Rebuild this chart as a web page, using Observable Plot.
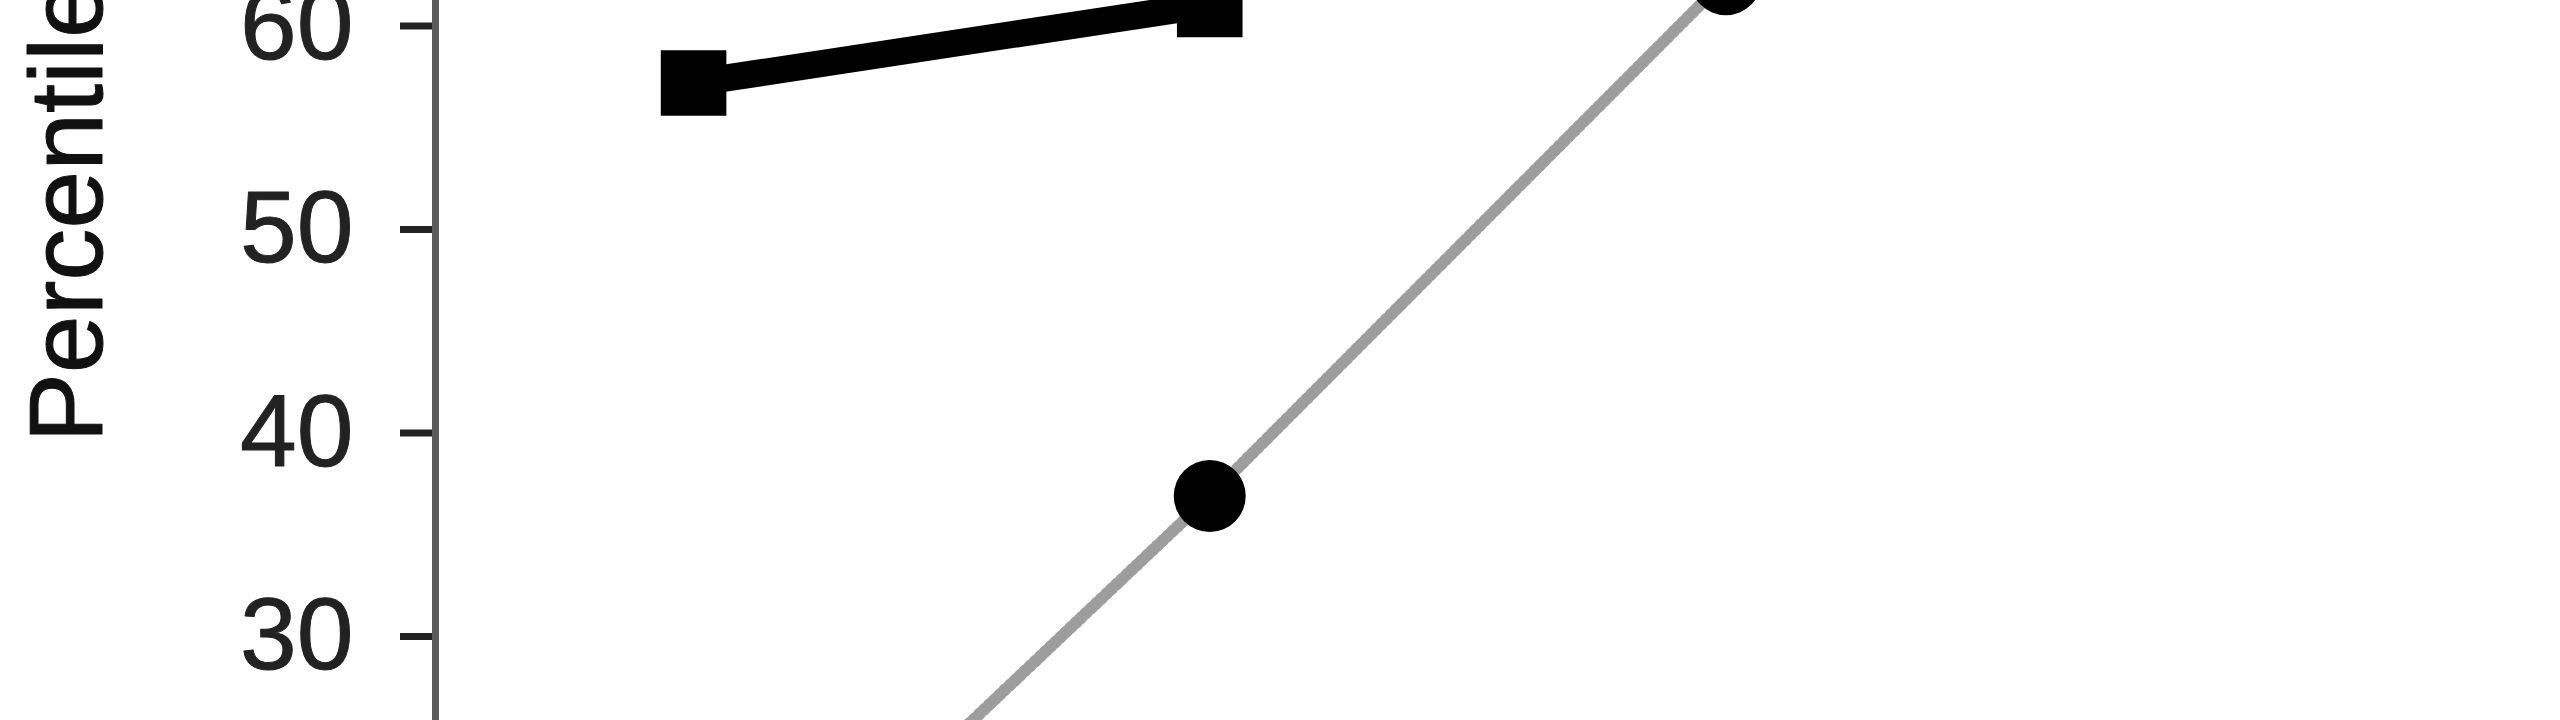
<!DOCTYPE html>
<html><head><meta charset="utf-8">
<script src="https://cdn.jsdelivr.net/npm/d3@7"></script>
<script src="https://cdn.jsdelivr.net/npm/@observablehq/plot@0.6"></script>
<style>html,body{margin:0;padding:0;background:#fff;overflow:hidden;}</style>
</head><body><div id="chart"></div>
<script>
// Data (a cropped view of a larger figure)
const timepoints = [1, 2, 3];
const squareValues = [57.4, 61.25];
const circleValues = [13.1, 37.1, 62.5];
const yTicks = [30, 40, 50, 60];
const yLabel = "Percentile";

const squares = squareValues.map((v, i) => ({t: timepoints[i], v}));
const circles = circleValues.map((v, i) => ({t: timepoints[i], v}));

const chart = Plot.plot({
  width: 2560, height: 720,
  marginLeft: 435, marginRight: 0, marginTop: 0, marginBottom: 0,
  style: {fontFamily: "'Liberation Sans', Arial, sans-serif", background: "#fff"},
  x: {domain: [0.5, 4.617], axis: null},
  y: {domain: [26.07, 61.45]},
  marks: [
    Plot.axisY({ticks: yTicks, tickSize: 35, tickPadding: 47, fontSize: 102, color: "#222", strokeWidth: 7, label: null, dy: -4, textStroke: "#222", textStrokeWidth: 1}),
    Plot.frame({anchor: "left", stroke: "#5a5a5a", strokeWidth: 7}),
    Plot.line(circles, {x: "t", y: "v", stroke: "#8c8c8c", strokeWidth: 12, strokeDasharray: "3 4", strokeOpacity: 0.85, clip: true}),
    Plot.line(squares, {x: "t", y: "v", stroke: "#000", strokeWidth: 27, clip: true}),
    Plot.dot(squares, {x: "t", y: "v", symbol: "square", r: 37, fill: "#000", stroke: "none", clip: true}),
    Plot.dot(circles, {x: "t", y: "v", symbol: "circle", r: 36, fill: "#000", stroke: "none", clip: true}),
    Plot.text([yLabel], {frameAnchor: "left", rotate: -90, textAnchor: "start", dx: 68 - 435, dy: 442 - 360, fontSize: 104, fill: "#111", stroke: "#111", strokeWidth: 1})
  ]
});
document.getElementById("chart").appendChild(chart);
</script>
</body></html>
